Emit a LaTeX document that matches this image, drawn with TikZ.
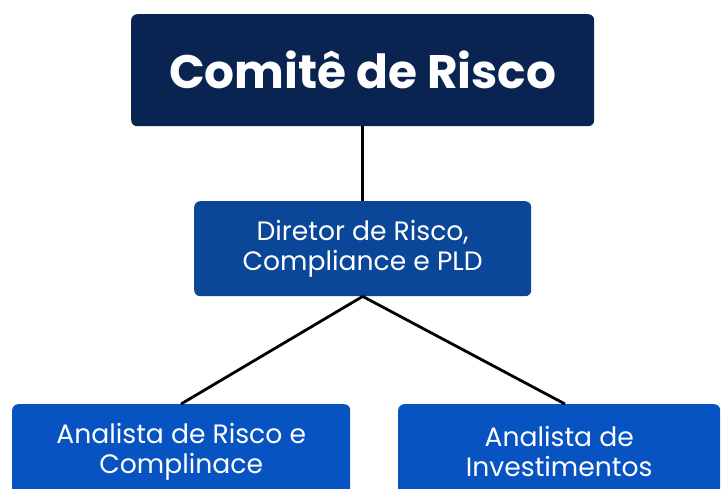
\documentclass[tikz,border=0pt]{standalone}
\usepackage{fontspec}
\setmainfont{Poppins}
\definecolor{navy}{HTML}{0A2452}
\definecolor{midblue}{HTML}{0A4798}
\definecolor{lowblue}{HTML}{0753C2}
\tikzset{
  box/.style={rounded corners=6pt, text=white, align=center, inner sep=0pt, anchor=north west},
  conn/.style={line width=2.8pt, black},
  lbl/.style={font=\fontsize{26.6}{30}\selectfont},
}
\begin{document}
\begin{tikzpicture}[x=1pt,y=-1pt]
\useasboundingbox (0,0) rectangle (723,488);
\fill[white] (0,0) rectangle (723,488);
\begin{scope}
\clip (0,0) rectangle (723,488);
\node[box, fill=navy, minimum width=463pt, minimum height=112pt, font=\fontsize{47}{50}\selectfont\bfseries] (top) at (131,14) {Comitê de Risco};
\node[box, lbl, fill=midblue, minimum width=337pt, minimum height=95pt] (mid) at (194,201) {Diretor de Risco,\\Compliance e PLD};
\node[box, lbl, fill=lowblue, minimum width=338pt, minimum height=95pt] (left) at (12,404) {Analista de Risco e\\Complinace};
\node[box, lbl, fill=lowblue, minimum width=322pt, minimum height=95pt] (right) at (398,404) {Analista de\\Investimentos};
\coordinate (lt) at (181,404);
\coordinate (rt) at (565,404);
\draw[conn] (top.south) -- (mid.north);
\draw[conn] (mid.south) -- (lt);
\draw[conn] (mid.south) -- (rt);
\end{scope}
\end{tikzpicture}
\end{document}
